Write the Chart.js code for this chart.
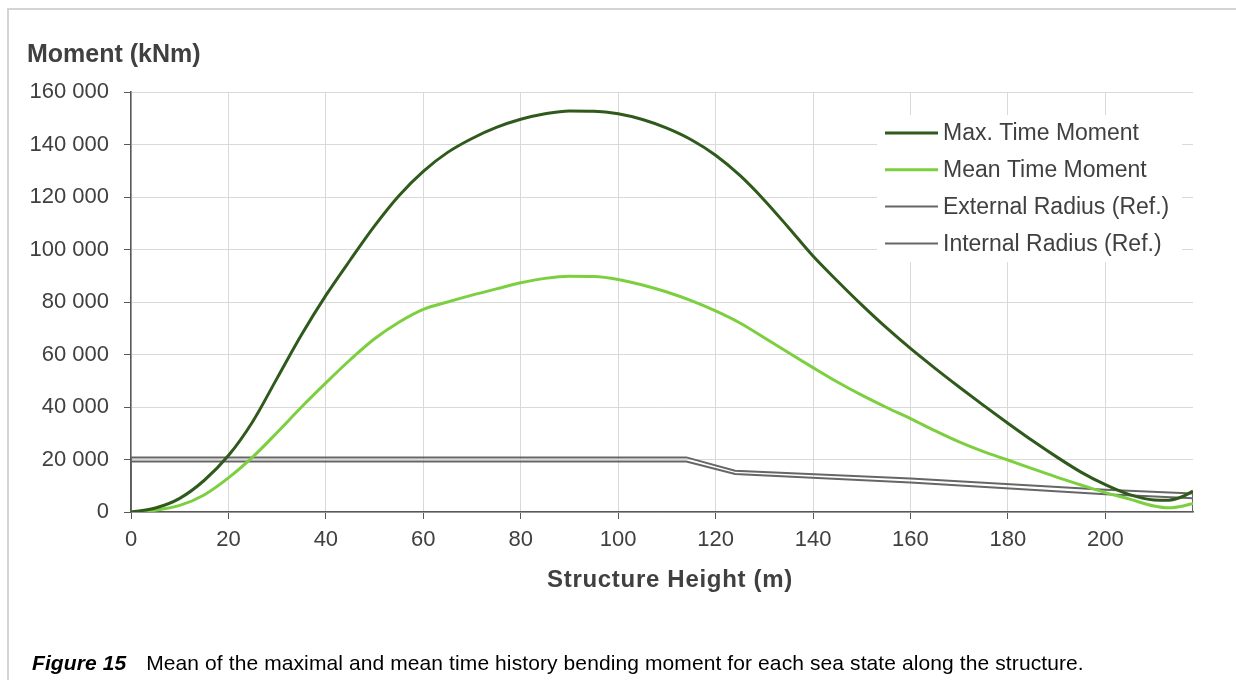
<!DOCTYPE html>
<html>
<head>
<meta charset="utf-8">
<script src="https://cdn.jsdelivr.net/npm/chart.js@4.4.0/dist/chart.umd.min.js"></script>
<style>
  html, body { margin: 0; padding: 0; background: #fff; }
  body { width: 1236px; height: 680px; position: relative; overflow: hidden; font-family: "Liberation Sans", Arial, sans-serif; }
  .frame { position: absolute; left: 7px; top: 8px; width: 1400px; height: 900px; border-left: 2px solid #d4d4d4; border-top: 2px solid #d4d4d4; }
  .wrapper { position: absolute; left: 0; top: 0; width: 1236px; height: 680px; }
  #yTitle { position: absolute; left: 27px; top: 39px; font-size: 25px; font-weight: bold; color: #404040; white-space: nowrap; }
  #xTitle { position: absolute; left: 670px; top: 565px; transform: translateX(-50%); font-size: 24px; font-weight: bold; color: #404040; white-space: nowrap; letter-spacing: 0.7px; }
  #caption { position: absolute; left: 32px; top: 651px; font-size: 21px; color: #000; white-space: nowrap; letter-spacing: 0.1px; }
  #caption b { font-style: italic; margin-right: 14px; }
</style>
</head>
<body>
<div class="frame"></div>
<div class="wrapper"><canvas id="Chart" width="1236" height="680"></canvas></div>
<div id="yTitle">Moment (kNm)</div>
<div id="xTitle">Structure Height (m)</div>
<div id="caption"><b>Figure 15</b> Mean of the maximal and mean time history bending moment for each sea state along the structure.</div>
<script>
// structure height (m) for the moment curves
const heights = [0, 5, 10, 15, 20, 25, 30, 35, 40, 45, 50, 55, 60, 65, 70, 75, 80, 85, 90, 95, 100,
  105, 110, 115, 120, 125, 130, 135, 140, 145, 150, 155, 160, 165, 170, 175, 180, 185, 190, 195, 200,
  205, 210, 213, 216, 218];
// moments (kNm)
const maxMoment = [0, 1500, 5200, 12000, 21500, 34500, 51000, 67500, 82500, 96000, 109000, 120500, 129800,
  137000, 142300, 146500, 149600, 151700, 152800, 152700, 151700, 149500, 146200, 141800, 135900, 128200,
  118800, 108300, 97500, 88000, 78900, 70300, 62300, 54800, 47600, 40600, 33800, 27200, 21000, 15200,
  10400, 6600, 4600, 4500, 6000, 8000];
const meanMoment = [0, 700, 2500, 6500, 13000, 21000, 30300, 40000, 49200, 58000, 66000, 72300, 77200,
  80000, 82600, 85000, 87300, 89000, 89800, 89700, 88600, 86500, 83800, 80500, 76600, 72000, 66400,
  60700, 55000, 49500, 44500, 39900, 35600, 31000, 26700, 23000, 19800, 16500, 13300, 10300, 7400,
  4900, 2300, 1600, 2300, 3300];
// reference radius lines
const refHeights = [0, 0, 114, 124, 160, 200, 218, 218];
const extRadius = [0, 20800, 20800, 15700, 12800, 8500, 7000, 0];
const intRadius = [0, 19200, 19200, 14500, 11200, 6800, 5200, 0];

const xTicks = [0, 20, 40, 60, 80, 100, 120, 140, 160, 180, 200];

function pts(xs, ys) {
  return xs.map((x, i) => ({ x: x, y: ys[i] }));
}

const boxLegend = {
  id: 'boxLegend',
  afterDatasetsDraw(chart) {
    const c = chart.ctx;
    c.save();
    c.fillStyle = '#fff';
    c.fillRect(877, 115, 305, 147);
    chart.data.datasets.forEach((ds, i) => {
      const y = 133 + i * 36.8;
      c.strokeStyle = ds.borderColor;
      c.lineWidth = ds.borderWidth;
      c.beginPath();
      c.moveTo(885, y);
      c.lineTo(938, y);
      c.stroke();
      c.fillStyle = '#404040';
      c.font = '23px "Liberation Sans", Arial, sans-serif';
      c.textBaseline = 'middle';
      c.fillText(ds.label, 943, y + 1);
    });
    c.restore();
  }
};

const ctx = document.getElementById('Chart');
const myChart = new Chart(ctx, {
  type: 'line',
  data: {
    datasets: [{
      label: 'Max. Time Moment',
      data: pts(heights, maxMoment),
      borderColor: '#2f5a1c',
      borderWidth: 3,
      cubicInterpolationMode: 'monotone',
      fill: false
    }, {
      label: 'Mean Time Moment',
      data: pts(heights, meanMoment),
      borderColor: '#7ccf3e',
      borderWidth: 3,
      cubicInterpolationMode: 'monotone',
      fill: false
    }, {
      label: 'External Radius (Ref.)',
      data: pts(refHeights, extRadius),
      borderColor: '#666666',
      borderWidth: 2,
      tension: 0,
      fill: false
    }, {
      label: 'Internal Radius (Ref.)',
      data: pts(refHeights, intRadius),
      borderColor: '#666666',
      borderWidth: 2,
      tension: 0,
      fill: false
    }]
  },
  plugins: [boxLegend],
  options: {
    responsive: false,
    animation: false,
    devicePixelRatio: 1,
    elements: { point: { radius: 0 } },
    layout: { padding: { left: 0, top: 92, right: 43, bottom: 128 } },
    plugins: { legend: { display: false }, tooltip: { enabled: false } },
    scales: {
      x: {
        type: 'linear',
        min: 0,
        max: 218,
        afterBuildTicks: (axis) => { axis.ticks = xTicks.map(v => ({ value: v })); },
        afterFit: (scale) => { scale.height = 40; },
        ticks: { color: '#404040', font: { size: 22, family: '"Liberation Sans", Arial' }, padding: 8, maxRotation: 0 },
        grid: { color: '#d9d9d9', tickColor: '#595959', tickLength: 7, lineWidth: 1 },
        border: { color: '#595959', width: 1.5 }
      },
      y: {
        min: 0,
        max: 160000,
        afterFit: (scale) => { scale.width = 131; },
        ticks: {
          stepSize: 20000,
          color: '#404040',
          font: { size: 22, family: '"Liberation Sans", Arial' },
          padding: 15,
          callback: (v) => String(v).replace(/\B(?=(\d{3})+(?!\d))/g, ' ')
        },
        grid: { color: '#d9d9d9', tickColor: '#595959', tickLength: 7, lineWidth: 1 },
        border: { color: '#595959', width: 1.5 }
      }
    }
  }
});
</script>
</body>
</html>
